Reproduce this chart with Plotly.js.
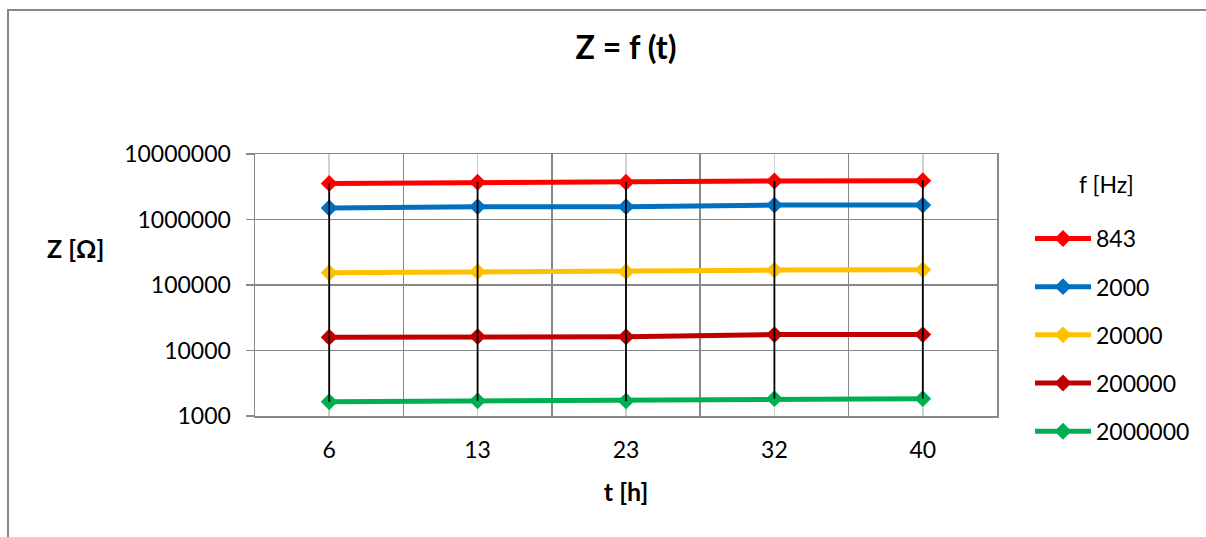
<!DOCTYPE html>
<html>
<head>
<meta charset="utf-8">
<script src="https://cdn.plot.ly/plotly-3.0.1.min.js"></script>
<style>
  html, body { margin: 0; padding: 0; background: #ffffff; overflow: hidden; }
  #frame { position: absolute; left: 7px; top: 9px; width: 1400px; height: 800px; border: 2px solid #878787; }
  #chart { position: absolute; left: 0; top: 0; width: 1206px; height: 537px; }
</style>
</head>
<body>
<div id="frame"></div>
<div id="chart"></div>
<script>
// Categories (time in hours)
const tHours = ['6', '13', '23', '32', '40'];

// Frequencies (legend names)
const freqNames = ['843', '2000', '20000', '200000', '2000000'];

// Impedance values Z [Ω] per frequency
const z843     = [3560000, 3700000, 3700000, 3870000, 3920000];
const z2000    = [1500000, 1570000, 1570000, 1660000, 1660000];
const z20000   = [154000, 160000, 160000, 169000, 171000];
const z200000  = [15900, 16300, 16200, 17500, 17500];
const z2000000 = [1650, 1710, 1700, 1840, 1840];

// Y tick labels
const yTickVals = [1000, 10000, 100000, 1000000, 10000000];
const yTickText = ['1000', '10000', '100000', '1000000', '10000000'];

const seriesColors = ['#FF0000', '#0070C0', '#FFC000', '#C00000', '#00B050'];
const allSeries = [z843, z2000, z20000, z200000, z2000000];

const FONT = 'Lato, "Open Sans", sans-serif';

const traces = [];

// Dummy invisible trace so xaxis2 (light grid at category centres) is created
traces.push({
  type: 'scatter', x: [0], y: [1000], xaxis: 'x2', yaxis: 'y',
  mode: 'markers', marker: { opacity: 0 }, showlegend: false, hoverinfo: 'skip'
});

allSeries.forEach((vals, i) => traces.push({
  type: 'scatter',
  mode: 'lines+markers',
  name: freqNames[i],
  x: tHours,
  y: vals,
  legendgroup: 'g' + i,
  line: { color: seriesColors[i], width: 5 },
  marker: { symbol: 'diamond', size: 13, color: seriesColors[i] },
  hoverinfo: 'x+y+name'
}));

// High-low lines built from the series (min to max at each category)
const hlX = [], hlY = [];
tHours.forEach((t, j) => {
  const col = allSeries.map(s => s[j]);
  hlX.push(t, t, null);
  hlY.push(Math.min(...col), Math.max(...col), null);
});
traces.push({
  type: 'scatter',
  mode: 'lines',
  x: hlX,
  y: hlY,
  showlegend: false,
  hoverinfo: 'skip',
  line: { color: '#000000', width: 1.8 }
});

const layout = {
  width: 1206,
  height: 537,
  margin: { l: 255, r: 208, t: 154, b: 121 },
  paper_bgcolor: 'rgba(0,0,0,0)',
  plot_bgcolor: '#ffffff',
  font: { family: FONT, size: 23, color: '#000000' },
  title: {
    text: '<b>Z = f (t)</b>',
    font: { family: FONT, size: 32, color: '#000000' },
    x: 0.5, xref: 'paper', xanchor: 'center',
    y: 1 - 48 / 537, yref: 'container', yanchor: 'middle'
  },
  xaxis: {
    type: 'category',
    categoryorder: 'array',
    categoryarray: tHours,
    range: [-0.5, 4.5],
    tickson: 'boundaries',
    ticks: '',
    showgrid: true,
    gridcolor: '#888888',
    gridwidth: 1.5,
    showline: true,
    linecolor: '#888888',
    linewidth: 1.5,
    mirror: true,
    zeroline: false,
    ticklabelstandoff: 13,
    tickfont: { family: FONT, size: 23, color: '#000000' },
    title: {
      text: '<b>t [h]</b>',
      font: { family: FONT, size: 25, color: '#000000' },
      standoff: 21
    }
  },
  xaxis2: {
    overlaying: 'x',
    range: [-0.5, 4.5],
    tick0: 0,
    dtick: 1,
    showgrid: true,
    gridcolor: '#cfcfcf',
    gridwidth: 1.5,
    showticklabels: false,
    ticks: '',
    showline: false,
    zeroline: false
  },
  yaxis: {
    type: 'log',
    range: [3, 7],
    tickvals: yTickVals,
    ticktext: yTickText,
    ticks: 'outside',
    ticklen: 8,
    tickwidth: 1.5,
    tickcolor: '#888888',
    showgrid: true,
    gridcolor: '#888888',
    gridwidth: 1.5,
    showline: true,
    linecolor: '#888888',
    linewidth: 1.5,
    mirror: true,
    zeroline: false,
    ticklabelstandoff: 10,
    tickfont: { family: FONT, size: 23, color: '#000000' }
  },
  showlegend: true,
  legend: {
    x: (1030 - 255) / 743,
    xanchor: 'left',
    y: 1 - (217 - 154) / 262,
    yanchor: 'top',
    traceorder: 'grouped',
    tracegroupgap: 15.3,
    itemwidth: 56,
    font: { family: FONT, size: 23, color: '#000000' },
    bgcolor: 'rgba(0,0,0,0)'
  },
  annotations: [{
    text: '<b>Z [Ω]</b>',
    xref: 'paper', yref: 'paper',
    x: (75 - 255) / 743, y: (416 - 248) / 262,
    xanchor: 'center', yanchor: 'middle',
    showarrow: false,
    font: { family: FONT, size: 25, color: '#000000' }
  }, {
    text: 'f [Hz]',
    xref: 'paper', yref: 'paper',
    x: (1108 - 255) / 743, y: (416 - 184) / 262,
    xanchor: 'center', yanchor: 'middle',
    showarrow: false,
    font: { family: FONT, size: 23, color: '#000000' }
  }]
};

Plotly.newPlot('chart', traces, layout, { displayModeBar: false, staticPlot: true });
</script>
</body>
</html>
